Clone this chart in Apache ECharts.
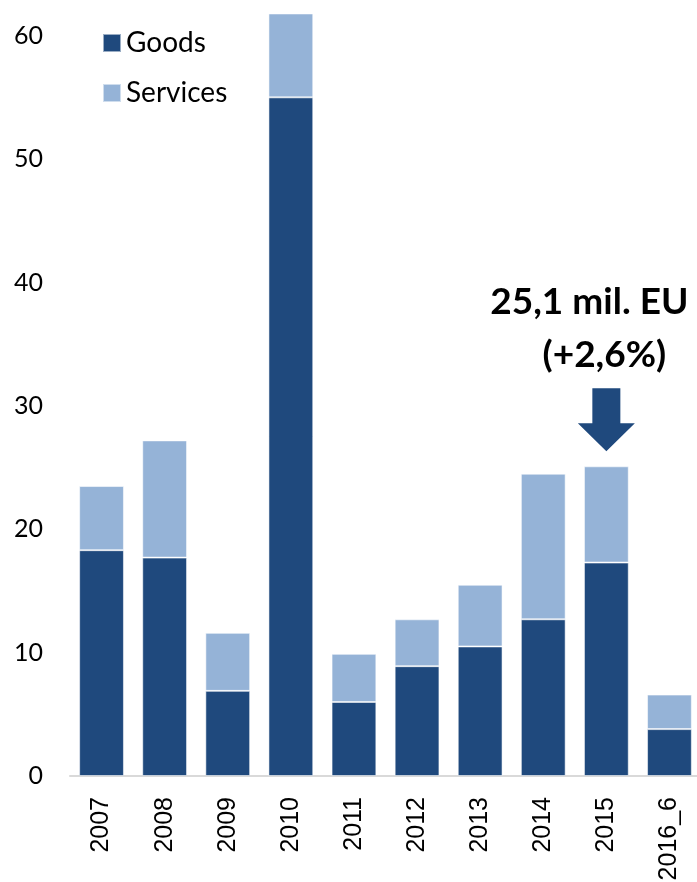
<!DOCTYPE html>
<html>
<head>
<meta charset="utf-8">
<script src="https://cdn.jsdelivr.net/npm/echarts@6/dist/echarts.min.js"></script>
<style>
html,body{margin:0;padding:0;background:#fff;}
#c{width:697px;height:882px;}
</style>
</head>
<body>
<div id="c"></div>
<script>
const categories = ['2007','2008','2009','2010','2011','2012','2013','2014','2015','2016_6'];
const goods    = [18.3, 17.7, 6.9, 55.0, 6.0, 8.9, 10.5, 12.7, 17.3, 3.8];
const services = [5.2, 9.5, 4.7, 6.8, 3.9, 3.8, 5.0, 11.8, 7.8, 2.8];
const yTicks = [0, 10, 20, 30, 40, 50, 60];
const annotationLines = ['25,1 mil. EU', '(+2,6%)'];
const annotatedCategory = '2015';

const chart = echarts.init(document.getElementById('c'));
const GOODS_C = '#1F497D';
const SERV_C = '#95B3D7';

chart.setOption({
  animation: false,
  backgroundColor: '#fff',
  grid: { left: 70, right: -4, top: 11, bottom: 106, containLabel: false, outerBoundsMode: 'none' },
  legend: {
    orient: 'vertical',
    left: 97,
    top: 24,
    itemWidth: 18,
    itemHeight: 18,
    itemGap: 22,
    icon: 'rect',
    textStyle: { fontFamily: 'Lato', fontSize: 28, color: '#000', padding: [0,0,0,0] },
    data: ['Goods', 'Services']
  },
  xAxis: {
    type: 'category',
    data: categories,
    axisLine: { lineStyle: { color: '#d9d9d9', width: 2 } },
    axisTick: { show: false },
    axisLabel: {
      rotate: 90,
      margin: 21,
      fontFamily: 'Liberation Sans',
      fontSize: 25,
      color: '#000',
      interval: 0
    }
  },
  yAxis: {
    type: 'value',
    min: 0,
    max: 62,
    interval: 10,
    axisLine: { show: false },
    axisTick: { show: false },
    splitLine: { show: false },
    axisLabel: {
      showMaxLabel: false,
      margin: 27,
      fontFamily: 'Lato',
      fontSize: 25,
      color: '#000',
      formatter: v => yTicks.indexOf(v) >= 0 ? String(v) : ''
    }
  },
  series: [
    {
      name: 'Goods', type: 'bar', stack: 'total', data: goods,
      barCategoryGap: '29%',
      itemStyle: { color: GOODS_C, borderColor: 'rgba(255,255,255,0.55)', borderWidth: 1 }
    },
    {
      name: 'Services', type: 'bar', stack: 'total', data: services,
      barCategoryGap: '29%',
      itemStyle: { color: SERV_C, borderColor: 'rgba(255,255,255,0.55)', borderWidth: 1 }
    }
  ]
});

// annotation above the annotated bar
const annIdx = categories.indexOf(annotatedCategory);
const annTotal = goods[annIdx] + services[annIdx];
const barTop = chart.convertToPixel({ gridIndex: 0 }, [annIdx, annTotal]);
const cx = barTop[0];
const tipY = barTop[1] - 15;
chart.setOption({
  graphic: [
    {
      type: 'polygon',
      shape: {
        points: [
          [cx - 14, tipY - 63], [cx + 14, tipY - 63], [cx + 14, tipY - 28],
          [cx + 28.5, tipY - 28], [cx, tipY], [cx - 28.5, tipY - 28], [cx - 14, tipY - 28]
        ]
      },
      style: { fill: GOODS_C }
    },
    {
      type: 'text', x: cx - 17, y: 302,
      style: { text: annotationLines[0], fontFamily: 'Lato', fontWeight: 'bold', fontSize: 37,
               fill: '#000', textAlign: 'center', textVerticalAlign: 'middle' }
    },
    {
      type: 'text', x: cx - 2, y: 355,
      style: { text: annotationLines[1], fontFamily: 'Lato', fontWeight: 'bold', fontSize: 37,
               fill: '#000', textAlign: 'center', textVerticalAlign: 'middle' }
    }
  ]
});
</script>
</body>
</html>
